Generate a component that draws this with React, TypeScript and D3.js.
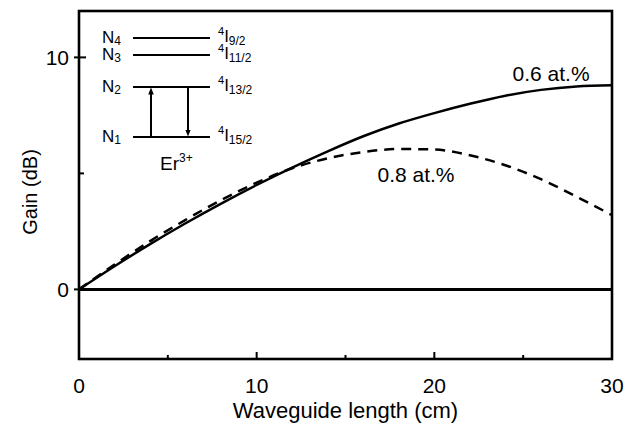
import React from "react";
import * as d3 from "d3";

// Gain vs. waveguide length for two Er concentrations
const lengthCm = [0, 2, 4, 6, 8, 10, 12, 14, 16, 18, 20, 22, 24, 26, 28, 30];
const gain06 = [0, 1.0, 1.95, 2.85, 3.7, 4.5, 5.25, 5.95, 6.6, 7.15, 7.6, 8.0, 8.35, 8.6, 8.75, 8.8];
const gain08 = [0, 1.07, 2.08, 3.0, 3.85, 4.6, 5.22, 5.65, 5.92, 6.05, 6.03, 5.78, 5.35, 4.75, 4.0, 3.2];

const xMajorTicks = [0, 10, 20, 30];
const xMinorTicks = [5, 15, 25];
const yMajorTicks = [0, 10];
const yMinorTicks = [5];

const seriesLabels = ["0.6 at.%", "0.8 at.%"];
const xTitle = "Waveguide length (cm)";
const yTitle = "Gain (dB)";

const W = 637;
const H = 432;
const margin = { left: 79, right: 25, top: 11, bottom: 73 };

const FONT = "'Liberation Sans', Arial, Helvetica, sans-serif";

export default function App() {
  const x = d3.scaleLinear().domain([0, 30]).range([margin.left, W - margin.right]);
  const y = d3.scaleLinear().domain([-3, 12]).range([H - margin.bottom, margin.top]);

  const line = d3
    .line<number>()
    .x((_, i) => x(lengthCm[i]))
    .y((d) => y(d))
    .curve(d3.curveMonotoneX);

  const x0 = x(0);
  const x1 = x(30);
  const yTop = y(12);
  const yBot = y(-3);

  // Energy-level inset geometry
  const lvX0 = 133;
  const lvX1 = 210;
  const levels = [
    { n: "4", y: 38, j: "9/2" },
    { n: "3", y: 55, j: "11/2" },
    { n: "2", y: 87, j: "13/2" },
    { n: "1", y: 137, j: "15/2" },
  ];

  return (
    <svg width={W} height={H} style={{ position: "absolute", left: 0, top: 0, background: "#fff" }}>
      <defs>
        <marker id="ah" viewBox="0 0 10 10" refX="5" refY="5" markerWidth="3.5" markerHeight="3.5" orient="auto">
          <path d="M0,1 L10,5 L0,9 z" fill="#000" />
        </marker>
      </defs>

      {/* curves */}
      <path d={line(gain06) ?? ""} fill="none" stroke="#000" strokeWidth={2.5} />
      <path d={line(gain08) ?? ""} fill="none" stroke="#000" strokeWidth={2.5} strokeDasharray="10,7" />

      {/* zero line */}
      <line x1={x0} x2={x1} y1={y(0)} y2={y(0)} stroke="#000" strokeWidth={3} />

      {/* frame */}
      <rect x={x0} y={yTop} width={x1 - x0} height={yBot - yTop} fill="none" stroke="#000" strokeWidth={2.6} />

      {/* x ticks */}
      {xMajorTicks.slice(1, -1).map((t) => (
        <line key={"xm" + t} x1={x(t)} x2={x(t)} y1={yBot} y2={yBot - 7} stroke="#000" strokeWidth={2} />
      ))}
      {xMinorTicks.map((t) => (
        <line key={"xn" + t} x1={x(t)} x2={x(t)} y1={yBot} y2={yBot - 4} stroke="#000" strokeWidth={2} />
      ))}
      {xMajorTicks.map((t) => (
        <text key={"xl" + t} x={x(t)} y={yBot + 34} textAnchor="middle" fontFamily={FONT} fontSize={21} fill="#000">
          {t}
        </text>
      ))}

      {/* y ticks */}
      {yMajorTicks.map((t) => (
        <line key={"ym" + t} x1={x0 - 5} x2={x0 + 7} y1={y(t)} y2={y(t)} stroke="#000" strokeWidth={2} />
      ))}
      {yMinorTicks.map((t) => (
        <line key={"yn" + t} x1={x0} x2={x0 + 5} y1={y(t)} y2={y(t)} stroke="#000" strokeWidth={2} />
      ))}
      {yMajorTicks.map((t) => (
        <text key={"yl" + t} x={x0 - 10} y={y(t) + 8} textAnchor="end" fontFamily={FONT} fontSize={21} fill="#000">
          {t}
        </text>
      ))}

      {/* axis titles */}
      <text x={(x0 + x1) / 2} y={418} textAnchor="middle" fontFamily={FONT} fontSize={22} fill="#000">
        {xTitle}
      </text>
      <text
        transform={`translate(37, ${y(4.2)}) rotate(-90)`}
        textAnchor="middle"
        fontFamily={FONT}
        fontSize={20}
        fill="#000"
      >
        {yTitle}
      </text>

      {/* series labels */}
      <text x={x(24.4)} y={y(8.97)} fontFamily={FONT} fontSize={21} fill="#000">
        {seriesLabels[0]}
      </text>
      <text x={x(16.8)} y={y(4.65)} fontFamily={FONT} fontSize={21} fill="#000">
        {seriesLabels[1]}
      </text>

      {/* energy levels of Er3+ */}
      {levels.map((lv) => (
        <g key={lv.n}>
          <line x1={lvX0} x2={lvX1} y1={lv.y} y2={lv.y} stroke="#000" strokeWidth={2.2} />
          <text x={102} y={lv.y + 5} fontFamily={FONT} fontSize={17} fill="#000">
            N
            <tspan fontSize={12} dy={2}>{lv.n}</tspan>
          </text>
          <text x={218} y={lv.y + 4} fontFamily={FONT} fontSize={17} fill="#000">
            <tspan fontSize={11} dy={-7}>4</tspan>
            <tspan dy={7}>I</tspan>
            <tspan fontSize={12} dy={3}>{lv.j}</tspan>
          </text>
        </g>
      ))}
      <line x1={151} x2={151} y1={137} y2={91} stroke="#000" strokeWidth={2} markerEnd="url(#ah)" />
      <line x1={188} x2={188} y1={87} y2={133} stroke="#000" strokeWidth={2} markerEnd="url(#ah)" />
      <text x={160} y={170} fontFamily={FONT} fontSize={19} fill="#000">
        Er
        <tspan fontSize={12} dy={-8}>3+</tspan>
      </text>
    </svg>
  );
}
